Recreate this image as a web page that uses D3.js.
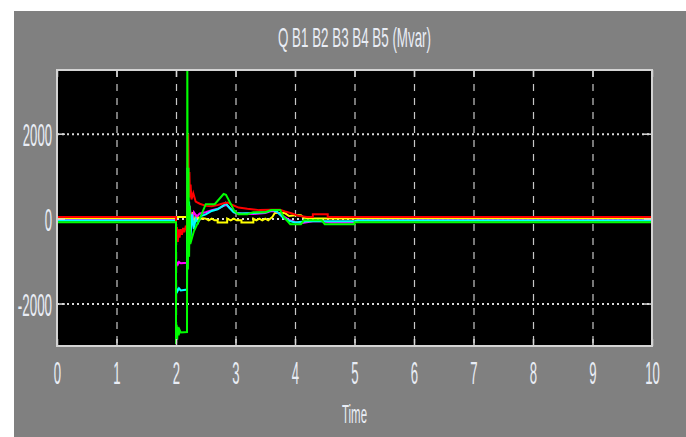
<!DOCTYPE html>
<html>
<head>
<meta charset="utf-8">
<script src="https://cdn.jsdelivr.net/npm/d3@7"></script>
<style>
  body { margin: 0; background: #fff; }
  svg { display: block; }
  .lbl { font-family: "Liberation Sans", Arial, sans-serif; fill: #e9edf5; }
</style>
</head>
<body>
<svg width="686" height="437"></svg>
<script>
// ticks
const xTicks = [0, 1, 2, 3, 4, 5, 6, 7, 8, 9, 10];
const yTicks = [-2000, 0, 2000];

// bus reactive power, [time, Mvar]
const qB1 = [[0, 10], [2.0, 10], [2.0, 40], [2.185, 40], [2.19, 350], [2.21, -150], [2.23, 250],
  [2.25, -100], [2.28, 150], [2.31, -60], [2.35, 60], [2.4, -20], [2.45, 10], [2.5, 0],
  [2.55, -40], [2.6, 0], [2.65, -40], [2.7, -40], [2.7, -90], [2.86, -90], [2.86, 0],
  [2.92, -40], [2.97, 0], [3.02, -40], [3.1, -40], [3.1, -90], [3.3, -90], [3.3, 0],
  [3.35, -40], [3.4, 0], [3.45, -40], [3.5, 0], [3.55, -40], [3.62, 40], [3.66, 130],
  [3.83, 130], [3.9, 60], [4.0, 80], [4.1, 80], [4.15, 20], [4.3, 0], [10, 0]];

const qB2 = [[0, -30], [2.0, -30], [2.0, -1000], [2.03, -1080], [2.05, -1020], [2.08, -1050],
  [2.185, -1040], [2.19, 800], [2.21, -300], [2.23, 300], [2.26, -100], [2.3, 150], [2.35, 50],
  [2.4, 120], [2.5, 150], [2.6, 200], [2.7, 230], [2.8, 300], [2.85, 320], [2.95, 200],
  [3.0, 130], [3.1, 120], [3.3, 110], [3.5, 130], [3.6, 180], [3.68, 170], [3.8, 60],
  [3.9, -30], [4.0, -80], [4.1, -110], [4.3, -60], [4.45, -60], [4.6, -90], [5.0, -90],
  [5.05, -40], [10, -40]];

const qB3 = [[0, -45], [2.0, -45], [2.0, -1600], [2.02, -1720], [2.05, -1640], [2.08, -1690],
  [2.185, -1670], [2.19, 1200], [2.205, -900], [2.22, 400], [2.24, -500], [2.27, 100],
  [2.3, -250], [2.33, 0], [2.37, -100], [2.42, 60], [2.5, 100], [2.6, 180], [2.7, 220],
  [2.8, 310], [2.83, 370], [2.9, 250], [2.97, 150], [3.05, 120], [3.3, 130], [3.5, 150],
  [3.62, 200], [3.7, 160], [3.8, 20], [3.9, -50], [4.0, -90], [4.2, -60], [5.0, -60],
  [5.05, -45], [10, -45]];

const qB4 = [[0, 40], [2.0, 40], [2.0, -600], [2.015, -200], [2.03, -550], [2.045, -250],
  [2.06, -450], [2.08, -250], [2.1, -380], [2.12, -220], [2.14, -320], [2.16, -200],
  [2.185, -250], [2.205, 2000], [2.215, 600], [2.225, 1100], [2.235, 500], [2.245, 800],
  [2.26, 450], [2.29, 600], [2.33, 400], [2.4, 350], [2.5, 300], [2.6, 290], [2.7, 320],
  [2.8, 360], [2.87, 380], [2.95, 320], [3.05, 260], [3.2, 230], [3.4, 200], [3.6, 210],
  [3.75, 210], [3.85, 160], [3.95, 120], [4.05, 70], [4.2, 40], [4.3, 40], [4.3, 100],
  [4.55, 100], [4.55, 40], [10, 40]];

const qB5 = [[0, -85], [2.0, -85], [2.0, -2950], [2.01, -2500], [2.02, -2850], [2.03, -2550],
  [2.045, -2750], [2.06, -2620], [2.08, -2680], [2.185, -2670], [2.19, 3800], [2.2, -1200],
  [2.21, 1200], [2.22, -900], [2.23, 300], [2.24, -600], [2.3, -300], [2.4, 0], [2.5, 340],
  [2.65, 340], [2.72, 450], [2.8, 580], [2.84, 560], [2.9, 400], [2.98, 180], [3.05, 100],
  [3.2, 100], [3.25, 130], [3.3, 150], [3.5, 150], [3.6, 200], [3.75, 200], [3.8, 60],
  [3.92, -130], [4.1, -130], [4.15, -40], [4.45, -40], [4.5, -130], [5.0, -130], [5.0, -85],
  [10, -85]];

const series = [qB1, qB2, qB3, qB4, qB5];
const colors = ['#ffff00', '#ff00ff', '#00ffff', '#ff0000', '#00ff00'];

const svg = d3.select('svg');
const width = +svg.attr('width');
const height = +svg.attr('height');

svg.append('rect')
  .attr('x', 14).attr('y', 11)
  .attr('width', width - 14).attr('height', height - 11)
  .attr('fill', '#808080');

const margin = { top: 70, right: 34, bottom: 91, left: 57 };
const innerWidth = width - margin.left - margin.right;
const innerHeight = height - margin.top - margin.bottom;

const xScale = d3.scaleLinear().domain([0, 10]).range([0, innerWidth]);
const yScale = d3.scaleLinear().domain([-3000, 3500]).range([innerHeight, 0]);

const g = svg.append('g')
  .attr('transform', `translate(${margin.left},${margin.top})`);

g.append('rect')
  .attr('width', innerWidth).attr('height', innerHeight)
  .attr('fill', '#000');

// grid
const xGrid = g.append('g')
  .call(d3.axisBottom(xScale).tickValues(xTicks.slice(1, -1)).tickSize(innerHeight).tickFormat(''));
xGrid.select('.domain').remove();
xGrid.selectAll('line')
  .attr('stroke', '#c8c8c8').attr('stroke-width', 1.2).attr('stroke-dasharray', '7,7');

const yGrid = g.append('g')
  .call(d3.axisLeft(yScale).tickValues(yTicks).tickSize(-innerWidth).tickFormat(''));
yGrid.select('.domain').remove();
yGrid.selectAll('line')
  .attr('stroke', '#d8d8d8').attr('stroke-width', 2).attr('stroke-dasharray', '2,3');

// signals
g.append('clipPath').attr('id', 'clip')
  .append('rect').attr('width', innerWidth).attr('height', innerHeight);

const lineGenerator = d3.line()
  .x(d => xScale(d[0]))
  .y(d => yScale(d[1]));

g.append('g').attr('clip-path', 'url(#clip)')
  .selectAll('path').data(series)
  .enter().append('path')
    .attr('d', lineGenerator)
    .attr('fill', 'none')
    .attr('stroke', (d, i) => colors[i])
    .attr('stroke-width', 2);

// tick marks on all four edges
const tickStyle = sel => {
  sel.select('.domain').remove();
  sel.selectAll('line').attr('stroke', '#d8d8d8').attr('stroke-width', 1.5);
  sel.selectAll('text').remove();
};
g.append('g').attr('transform', `translate(0,${innerHeight})`)
  .call(d3.axisBottom(xScale).tickValues(xTicks).tickSize(-7)).call(tickStyle);
g.append('g')
  .call(d3.axisTop(xScale).tickValues(xTicks).tickSize(-7)).call(tickStyle);
g.append('g')
  .call(d3.axisLeft(yScale).tickValues(yTicks).tickSize(-8)).call(tickStyle);
g.append('g').attr('transform', `translate(${innerWidth},0)`)
  .call(d3.axisRight(yScale).tickValues(yTicks).tickSize(-8)).call(tickStyle);

g.append('rect')
  .attr('width', innerWidth).attr('height', innerHeight)
  .attr('fill', 'none').attr('stroke', '#d4d4d4').attr('stroke-width', 2);

// tick labels, squeezed narrow like the scope font
const digitW = 7.3;
const xAxisG = g.append('g').attr('transform', `translate(0,${innerHeight})`)
  .call(d3.axisBottom(xScale).tickValues(xTicks).tickSize(0).tickPadding(0)
    .tickFormat(d => String(d)));
xAxisG.select('.domain').remove();
xAxisG.selectAll('text')
  .attr('class', 'lbl')
  .attr('font-size', 32)
  .attr('dy', null)
  .attr('y', 38)
  .attr('textLength', d => String(d).length * digitW)
  .attr('lengthAdjust', 'spacingAndGlyphs');

const yAxisG = g.append('g')
  .call(d3.axisLeft(yScale).tickValues(yTicks).tickSize(0).tickPadding(5)
    .tickFormat(d => String(d)));
yAxisG.select('.domain').remove();
yAxisG.selectAll('text')
  .attr('class', 'lbl')
  .attr('font-size', 32)
  .attr('dy', '0.36em')
  .attr('textLength', d => String(Math.abs(d)).length * digitW + (d < 0 ? 5 : 0))
  .attr('lengthAdjust', 'spacingAndGlyphs');

// title and axis label
svg.append('text')
  .attr('class', 'lbl')
  .attr('x', margin.left + innerWidth / 2)
  .attr('y', 47)
  .attr('text-anchor', 'middle')
  .attr('font-size', 28)
  .attr('textLength', 153)
  .attr('lengthAdjust', 'spacingAndGlyphs')
  .text('Q B1 B2 B3 B4 B5 (Mvar)');

svg.append('text')
  .attr('class', 'lbl')
  .attr('x', margin.left + innerWidth / 2)
  .attr('y', 423)
  .attr('text-anchor', 'middle')
  .attr('font-size', 26)
  .attr('textLength', 25)
  .attr('lengthAdjust', 'spacingAndGlyphs')
  .text('Time');
</script>
</body>
</html>
